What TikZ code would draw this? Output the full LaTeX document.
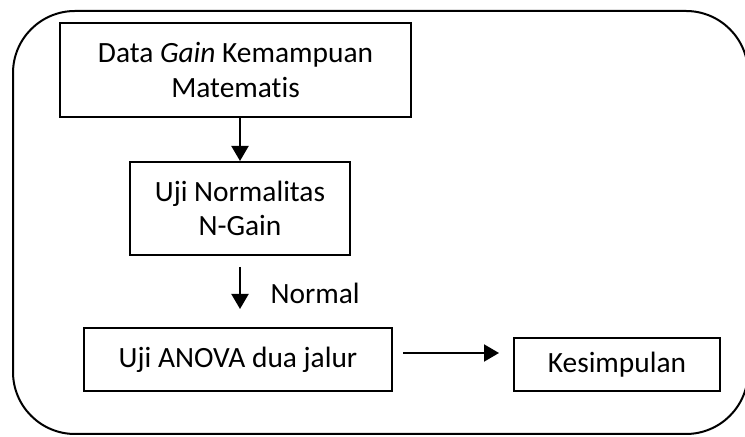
\documentclass[tikz,border=0pt]{standalone}
\usepackage{fontspec}
\setmainfont{Carlito}[Ligatures=NoCommon]
\usetikzlibrary{positioning,arrows.meta}

\begin{document}
\begin{tikzpicture}[
    x=0.5pt,y=-0.5pt,
    on grid,>={Triangle[width=8.5pt,length=7.5pt]},
    every node/.style={font=\fontsize{14.7}{17.2}\selectfont},
    stepbox/.style={draw,line width=1pt,align=center,inner sep=0pt},
    flow/.style={->,line width=1pt},
    outerframe/.style={draw,line width=1pt,rounded corners=31pt}
]
    \useasboundingbox (0,0) rectangle (745,437);
    %outer frame
    \draw[outerframe] (13,11) rectangle (748,434);
    %steps
    \node[stepbox,minimum width=175.5pt,minimum height=47pt] (data) at (235.5,70) {Data \textit{Gain} Kemampuan\\Matematis};
    \node[stepbox,minimum width=110pt,minimum height=46.5pt,below right=69.25pt and 2.25pt of data] (norm) {Uji Normalitas\\N-Gain};
    \node[stepbox,minimum width=154pt,minimum height=31.5pt,below left=75.5pt and 1pt of norm] (anova) {Uji ANOVA dua jalur};
    \node[stepbox,minimum width=103pt,minimum height=26.5pt,below right=2.5pt and 189.5pt of anova] (kesimpulan) {\raisebox{-2pt}{Kesimpulan}};
    %arrows
    \draw[flow] (data.south -| norm.north) -- (norm.north);
    \draw[flow] ([yshift=-5.5pt]norm.south) -- ([yshift=9pt]anova.north -| norm.south)
        node[anchor=base west,xshift=11.5pt,yshift=2.5pt] (normal) {Normal};
    \draw[flow] ([xshift=5pt,yshift=3.25pt]anova.east) -- ([xshift=-7pt,yshift=3.25pt]kesimpulan.west |- anova.east);
\end{tikzpicture}
\end{document}
